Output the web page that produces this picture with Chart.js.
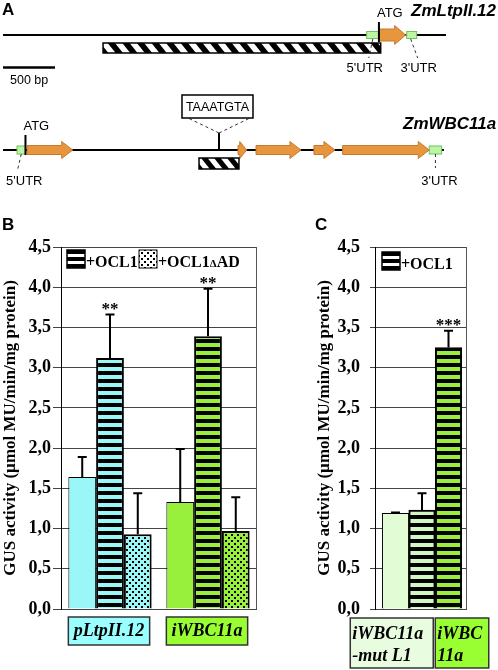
<!DOCTYPE html>
<html>
<head>
<meta charset="utf-8">
<script src="https://cdn.jsdelivr.net/npm/chart.js@4.4.0/dist/chart.umd.min.js"></script>
<style>
  html, body { margin: 0; padding: 0; background: #fff; }
  body { width: 498px; height: 670px; position: relative; overflow: hidden; }
  canvas { position: absolute; }
  #geneChart { left: 0; top: 0; }
  #chartB { left: 0; top: 195px; }
  #chartC { left: 262px; top: 195px; }
</style>
</head>
<body>
<canvas id="geneChart" width="498" height="195"></canvas>
<canvas id="chartB" width="262" height="475"></canvas>
<canvas id="chartC" width="236" height="475"></canvas>
<script>
// ---- panel A : gene models, positions in bp ----
const ltpLength = 4260;
const ltpFragment = [962, 3632];
const ltpUTR5 = [3497, 3615];
const ltpExons = [[3615, 3872]];
const ltpUTR3 = [3882, 3978];

const wbcLength = 4240;
const wbcUTR5 = [135, 216];
const wbcExons = [[231, 670], [2260, 2343], [2433, 2865], [2990, 3192], [3266, 4099]];
const wbcUTR3 = [4099, 4218];
const wbcSite = 2077;
const wbcFragment = [1885, 2269];
const scaleBarBp = 500;

// ---- panel B ----
const promotersB = ["pLtpII.12", "iWBC11a"];
const seriesNames = ["", "+OCL1", "+OCL1\u0394AD"];
const controlB = [1.64, 1.33];
const controlErrB = [0.25, 0.66];
const ocl1B = [3.12, 3.39];
const ocl1ErrB = [0.54, 0.59];
const deltaAdB = [0.93, 0.97];
const deltaAdErrB = [0.51, 0.42];
const starsB = ["**", "**"];

// ---- panel C ----
const promotersC = [["iWBC11a", "-mut L1"], ["iWBC", "11a"]];
const slotsControlC = [1];
const controlC = [1.19];
const controlErrC = [0.01];
const slotsOcl1C = [2, 3];
const ocl1C = [1.23, 3.25];
const ocl1ErrC = [0.21, 0.21];
const starsC = ["", "***"];

const yMin = 0, yMax = 4.5, yStep = 0.5;

const serif = "'Liberation Serif', 'Times New Roman', serif";
const sans = "'Liberation Sans', Arial, sans-serif";
const cyan = "#99f7f7";
const green = "#99f03c";
const paleGreen = "#e2fcd6";
const mint = "#d2f7c4";

function stripes(ctx, color) {
  const c = document.createElement("canvas");
  c.width = 4; c.height = 8;
  const g = c.getContext("2d");
  g.fillStyle = color; g.fillRect(0, 0, 4, 8);
  g.fillStyle = "#000"; g.fillRect(0, 0, 4, 4);
  return ctx.createPattern(c, "repeat");
}
function dots(ctx, color) {
  const c = document.createElement("canvas");
  c.width = 6; c.height = 6;
  const g = c.getContext("2d");
  g.fillStyle = color; g.fillRect(0, 0, 6, 6);
  g.fillStyle = "#000"; g.fillRect(0, 0, 2, 2); g.fillRect(3, 3, 2, 2);
  return ctx.createPattern(c, "repeat");
}

// ---------- panel A ----------
function hatchBox(ctx, x0, x1, y0, y1, period) {
  ctx.save();
  ctx.fillStyle = "#fff";
  ctx.fillRect(x0, y0, x1 - x0, y1 - y0);
  ctx.beginPath(); ctx.rect(x0, y0, x1 - x0, y1 - y0); ctx.clip();
  ctx.fillStyle = "#000";
  const h = y1 - y0;
  for (let sx = x0 - h; sx < x1 + h; sx += period) {
    ctx.beginPath();
    ctx.moveTo(sx, y0); ctx.lineTo(sx + period / 2, y0);
    ctx.lineTo(sx + period / 2 + h * 0.8, y1); ctx.lineTo(sx + h * 0.8, y1);
    ctx.fill();
  }
  ctx.restore();
  ctx.strokeStyle = "#000"; ctx.lineWidth = 1.5;
  ctx.strokeRect(x0, y0, x1 - x0, y1 - y0);
}
function arrow(ctx, x0, x1, y, shaft, head, headLen) {
  const hl = Math.min(headLen, (x1 - x0) * 0.8);
  ctx.beginPath();
  ctx.moveTo(x0, y - shaft); ctx.lineTo(x1 - hl, y - shaft); ctx.lineTo(x1 - hl, y - head);
  ctx.lineTo(x1, y); ctx.lineTo(x1 - hl, y + head); ctx.lineTo(x1 - hl, y + shaft);
  ctx.lineTo(x0, y + shaft); ctx.closePath();
  ctx.fillStyle = "#e8963e"; ctx.fill();
  ctx.strokeStyle = "#c47a30"; ctx.lineWidth = 1; ctx.stroke();
}
function utr(ctx, x0, x1, y, half) {
  ctx.fillStyle = "#bdf5a5";
  ctx.fillRect(x0, y - half, x1 - x0, 2 * half);
  ctx.strokeStyle = "#6fc25c"; ctx.lineWidth = 1;
  ctx.strokeRect(x0, y - half, x1 - x0, 2 * half);
}
function dashed(ctx, xa, ya, xb, yb) {
  ctx.save();
  ctx.setLineDash([3, 3]); ctx.strokeStyle = "#333"; ctx.lineWidth = 1;
  ctx.beginPath(); ctx.moveTo(xa, ya); ctx.lineTo(xb, yb); ctx.stroke();
  ctx.restore();
}
function line(ctx, xa, ya, xb, yb, w) {
  ctx.strokeStyle = "#000"; ctx.lineWidth = w;
  ctx.beginPath(); ctx.moveTo(xa, ya); ctx.lineTo(xb, yb); ctx.stroke();
}
function text(ctx, s, x, y, font, align) {
  ctx.font = font; ctx.fillStyle = "#000";
  ctx.textAlign = align || "left"; ctx.textBaseline = "alphabetic";
  ctx.fillText(s, x, y);
}

const genePlugin = {
  id: "genes",
  afterDraw(chart) {
    const ctx = chart.ctx;
    const px = v => chart.scales.x.getPixelForValue(v);
    const r1 = 35, r2 = 150;
    text(ctx, "A", 2, 15, "bold 17px " + sans);

    // ZmLtpII.12
    line(ctx, px(0), r1, px(ltpLength), r1, 2);
    hatchBox(ctx, px(ltpFragment[0]), px(ltpFragment[1]), 43, 53, 14.6);
    utr(ctx, px(ltpUTR5[0]), px(ltpUTR5[1]), r1, 3.5);
    ltpExons.forEach(e => arrow(ctx, px(e[0]), px(e[1]), r1, 6, 9.5, 11));
    utr(ctx, px(ltpUTR3[0]), px(ltpUTR3[1]), r1, 3.5);
    const atg1 = px(ltpUTR5[1]);
    line(ctx, atg1, 22, atg1, 42, 2);
    text(ctx, "ATG", atg1 - 2, 17, "13px " + sans);
    text(ctx, "ZmLtpII.12", 411, 16, "italic bold 17px " + sans);
    const u5 = (px(ltpUTR5[0]) + px(ltpUTR5[1])) / 2;
    dashed(ctx, u5, 39, u5 - 4, 58);
    text(ctx, "5'UTR", u5 - 8, 72, "13px " + sans, "center");
    const u3 = (px(ltpUTR3[0]) + px(ltpUTR3[1])) / 2;
    dashed(ctx, u3 - 1, 39, u3 + 6, 58);
    text(ctx, "3'UTR", u3 + 7, 72, "13px " + sans, "center");
    line(ctx, px(0), 67.5, px(scaleBarBp), 67.5, 2.5);
    text(ctx, "500 bp", 10, 84, "12.5px " + sans);

    // ZmWBC11a
    line(ctx, px(0), r2, px(wbcLength), r2, 2);
    utr(ctx, px(wbcUTR5[0]), px(wbcUTR5[1]), r2, 4);
    wbcExons.forEach(e => arrow(ctx, px(e[0]), px(e[1]), r2, 4.5, 8.5, 11));
    utr(ctx, px(wbcUTR3[0]), px(wbcUTR3[1]), r2, 4);
    const atg2 = px(wbcUTR5[1]);
    line(ctx, atg2, 135, atg2, 155, 2);
    text(ctx, "ATG", atg2 - 2, 130, "13px " + sans);
    text(ctx, "ZmWBC11a", 403, 129, "italic bold 17px " + sans);
    const s = px(wbcSite);
    line(ctx, s, 133, s, 150, 2);
    dashed(ctx, s, 133, s - 31, 118);
    dashed(ctx, s, 133, s + 31, 118);
    ctx.fillStyle = "#fff"; ctx.fillRect(s - 37, 95, 71, 23);
    ctx.strokeStyle = "#000"; ctx.lineWidth = 1.5; ctx.strokeRect(s - 37, 95, 71, 23);
    text(ctx, "TAAATGTA", s - 1.5, 111, "12.5px " + sans, "center");
    hatchBox(ctx, px(wbcFragment[0]), px(wbcFragment[1]), 158, 169, 13);
    const w5 = (px(wbcUTR5[0]) + px(wbcUTR5[1])) / 2;
    dashed(ctx, w5, 154, w5 - 4, 171);
    text(ctx, "5'UTR", w5 + 3, 185, "13px " + sans, "center");
    const w3 = (px(wbcUTR3[0]) + px(wbcUTR3[1])) / 2;
    dashed(ctx, w3, 154, w3, 168);
    text(ctx, "3'UTR", w3 + 4, 185, "13px " + sans, "center");
  }
};

new Chart(document.getElementById("geneChart"), {
  type: "scatter",
  data: { datasets: [{ data: [] }] },
  options: {
    responsive: false, animation: false, events: [],
    layout: { padding: 0 },
    plugins: { legend: { display: false }, tooltip: { enabled: false } },
    scales: {
      x: { type: "linear", min: -29, max: 4760, display: false },
      y: { display: false }
    }
  },
  plugins: [genePlugin]
});

// ---------- panels B and C ----------
function yAxis(width, tickLen, pad, titlePad) {
  return {
    min: yMin, max: yMax,
    ticks: {
      stepSize: yStep, color: "#000", padding: pad,
      font: { family: serif, size: 18, weight: "bold" },
      callback: v => v.toFixed(1).replace(".", ",")
    },
    grid: { color: "#444", lineWidth: 1, tickLength: tickLen },
    border: { display: true, color: "#000", width: 1 },
    title: {
      display: true, text: "GUS activity (\u00b5mol MU/min/mg protein)", color: "#000",
      font: { family: serif, size: 17, weight: "bold" },
      padding: { top: titlePad, bottom: 0 }
    },
    afterFit: s => { s.width = width; }
  };
}

function drawErrors(chart, errs, stars) {
  const ctx = chart.ctx;
  const y = chart.scales.y;
  errs.forEach((errArr, di) => {
    const meta = chart.getDatasetMeta(di);
    meta.data.forEach((bar, i) => {
      const v = chart.data.datasets[di].data[i];
      const val = typeof v === "object" ? v.y : v;
      const top = y.getPixelForValue(val + errArr[i]);
      ctx.strokeStyle = "#000"; ctx.lineWidth = 2;
      ctx.beginPath();
      ctx.moveTo(bar.x, bar.y); ctx.lineTo(bar.x, top);
      ctx.moveTo(bar.x - 4.5, top); ctx.lineTo(bar.x + 4.5, top);
      ctx.stroke();
      const st = stars[di] && stars[di][i];
      if (st) text(ctx, st, bar.x, top - 1, "bold 17px " + serif, "center");
    });
  });
}

function rightEdge(chart) {
  const a = chart.chartArea, ctx = chart.ctx;
  ctx.strokeStyle = "#555"; ctx.lineWidth = 1;
  ctx.beginPath(); ctx.moveTo(a.right - 0.5, a.top); ctx.lineTo(a.right - 0.5, a.bottom); ctx.stroke();
}

function labelBox(ctx, x0, x1, y0, y1, fill) {
  ctx.fillStyle = fill; ctx.fillRect(x0, y0, x1 - x0, y1 - y0);
  ctx.strokeStyle = "#333"; ctx.lineWidth = 1.5; ctx.strokeRect(x0, y0, x1 - x0, y1 - y0);
}

function stripeSwatch(ctx, x, y) {
  ctx.fillStyle = "#fff"; ctx.fillRect(x, y, 18, 18);
  ctx.fillStyle = "#000";
  [0, 7, 14].forEach(o => ctx.fillRect(x, y + o, 18, 4));
  ctx.strokeStyle = "#000"; ctx.lineWidth = 1.5; ctx.strokeRect(x, y, 18, 18);
}

const ctxB = document.getElementById("chartB").getContext("2d");
const pluginB = {
  id: "extrasB",
  afterDatasetsDraw(chart) {
    drawErrors(chart, [controlErrB, ocl1ErrB, deltaAdErrB], [null, starsB, null]);
  },
  afterDraw(chart) {
    const ctx = chart.ctx, a = chart.chartArea;
    rightEdge(chart);
    text(ctx, "B", 2, 35, "bold 17px " + sans);
    // legend
    const ly = 55;
    stripeSwatch(ctx, a.left + 6, ly);
    text(ctx, seriesNames[1], a.left + 25, ly + 17, "bold 16px " + serif);
    ctx.fillStyle = dots(ctx, "#fff"); ctx.fillRect(a.left + 78, ly, 18, 18);
    ctx.strokeStyle = "#000"; ctx.lineWidth = 1; ctx.strokeRect(a.left + 78, ly, 18, 18);
    let tx = a.left + 97;
    text(ctx, "+OCL1", tx, ly + 17, "bold 16px " + serif);
    ctx.font = "bold 16px " + serif; tx += ctx.measureText("+OCL1").width;
    text(ctx, "\u0394", tx, ly + 17, "bold 11px " + serif);
    ctx.font = "bold 11px " + serif; tx += ctx.measureText("\u0394").width;
    text(ctx, "AD", tx, ly + 17, "bold 16px " + serif);
    // promoter labels
    const fills = ["#99ffff", "#99ff33"];
    promotersB.forEach((p, i) => {
      const b0 = chart.getDatasetMeta(0).data[i], b2 = chart.getDatasetMeta(2).data[i];
      const x0 = b0.x - b0.width / 2, x1 = b2.x + b2.width / 2 - 2;
      labelBox(ctx, x0, x1, 422, 450, fills[i]);
      text(ctx, p, (x0 + x1) / 2, 441, "italic bold 18px " + serif, "center");
    });
  }
};

new Chart(ctxB, {
  type: "bar",
  data: {
    labels: promotersB,
    datasets: [
      { label: seriesNames[0], data: controlB, backgroundColor: [cyan, green], borderColor: "#000", borderWidth: 1 },
      { label: seriesNames[1], data: ocl1B, backgroundColor: [stripes(ctxB, cyan), stripes(ctxB, green)], borderColor: "#000", borderWidth: 2 },
      { label: seriesNames[2], data: deltaAdB, backgroundColor: [dots(ctxB, cyan), dots(ctxB, green)], borderColor: "#000", borderWidth: 2 }
    ]
  },
  options: {
    responsive: false, animation: false, events: [],
    categoryPercentage: 0.85, barPercentage: 1,
    layout: { padding: { left: 0, top: 52, right: 5, bottom: 61 } },
    plugins: { legend: { display: false }, tooltip: { enabled: false } },
    scales: {
      x: { display: false },
      y: yAxis(61, 8, 2, 0)
    }
  },
  plugins: [pluginB]
});

const ctxC = document.getElementById("chartC").getContext("2d");
const pluginC = {
  id: "extrasC",
  afterDatasetsDraw(chart) {
    drawErrors(chart, [controlErrC, ocl1ErrC], [null, starsC]);
  },
  afterDraw(chart) {
    const ctx = chart.ctx, a = chart.chartArea;
    rightEdge(chart);
    text(ctx, "C", 53, 35, "bold 17px " + sans);
    stripeSwatch(ctx, a.left + 7, 57);
    text(ctx, seriesNames[1], a.left + 26, 74, "bold 16px " + serif);
    const c0 = chart.getDatasetMeta(0).data[0];
    const o = chart.getDatasetMeta(1).data;
    const l = b => b.x - b.width / 2, r = b => b.x + b.width / 2;
    const boxes = [[l(c0) - 32, r(o[0]) - 2, "#e8fde0"], [l(o[1]), r(o[1]) + 27, "#99ff33"]];
    boxes.forEach((bx, i) => {
      labelBox(ctx, bx[0], bx[1], 423, 473, bx[2]);
      text(ctx, promotersC[i][0], bx[0] + 2, 444, "italic bold 18px " + serif);
      text(ctx, promotersC[i][1], bx[0] + 2, 466, "italic bold 18px " + serif);
    });
  }
};

new Chart(ctxC, {
  type: "bar",
  data: {
    datasets: [
      { label: seriesNames[0], data: slotsControlC.map((s, i) => ({ x: s, y: controlC[i] })),
        backgroundColor: paleGreen, borderColor: "#000", borderWidth: 1, grouped: false },
      { label: seriesNames[1], data: slotsOcl1C.map((s, i) => ({ x: s, y: ocl1C[i] })),
        backgroundColor: [stripes(ctxC, mint), stripes(ctxC, green)], borderColor: "#000", borderWidth: 2, grouped: false }
    ]
  },
  options: {
    responsive: false, animation: false, events: [],
    categoryPercentage: 1, barPercentage: 1,
    layout: { padding: { left: 0, top: 52, right: 31, bottom: 61 } },
    plugins: { legend: { display: false }, tooltip: { enabled: false } },
    scales: {
      x: { type: "linear", min: 0.226, max: 3.698, offset: false, grid: { offset: false }, display: false,
           ticks: { stepSize: 1, includeBounds: false } },
      y: yAxis(113, 5, 10, 52)
    }
  },
  plugins: [pluginC]
});
</script>
</body>
</html>
